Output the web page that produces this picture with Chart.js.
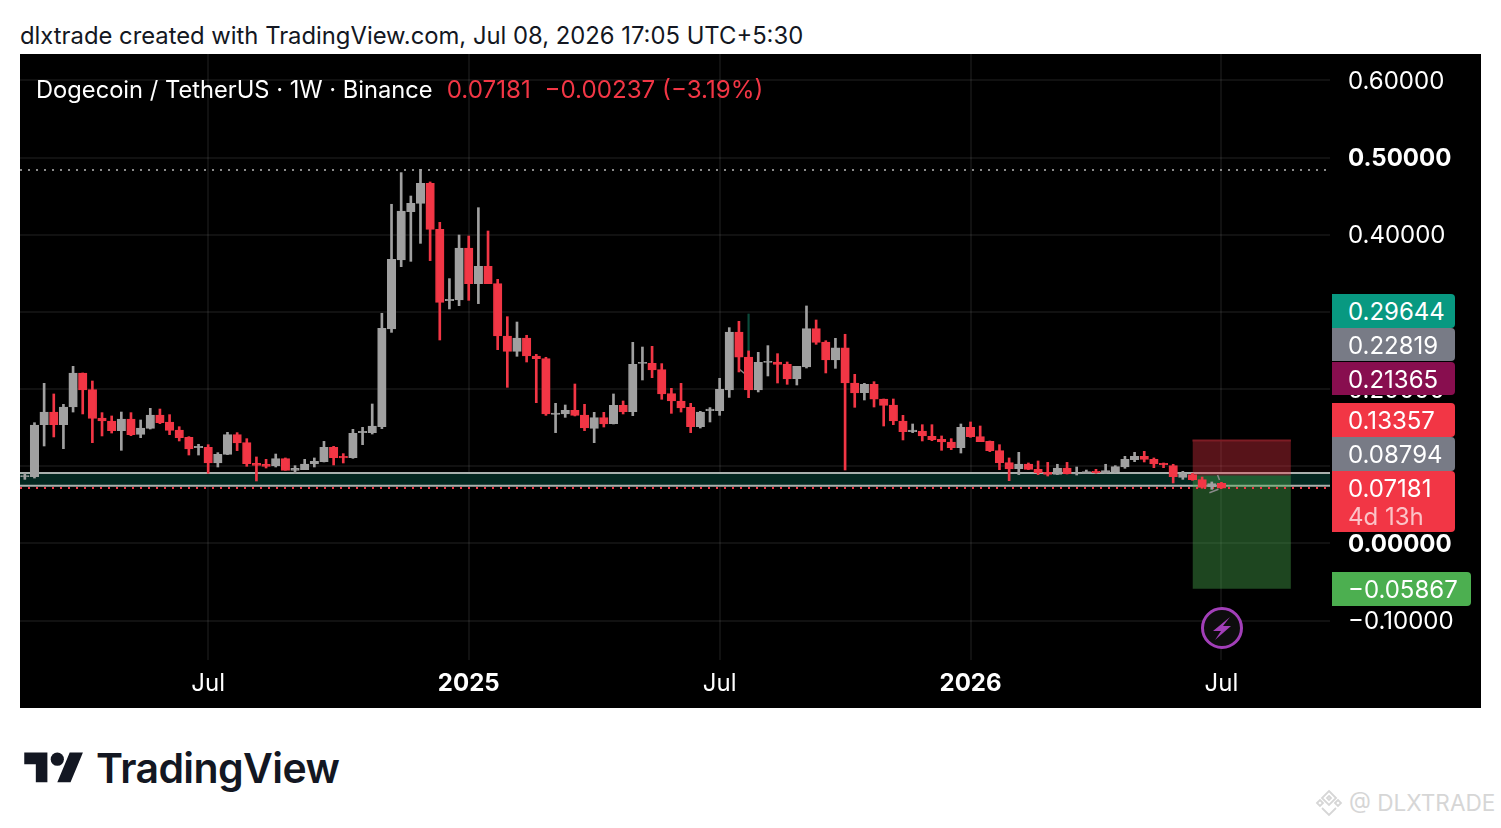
<!DOCTYPE html>
<html>
<head>
<meta charset="utf-8">
<script src="https://cdn.jsdelivr.net/npm/chart.js@4"></script>
<style>
html,body{margin:0;padding:0;background:#fff;width:1501px;height:828px;overflow:hidden;font-family:Inter,sans-serif}
.abs{position:absolute;white-space:pre;line-height:1}
#panel{position:absolute;left:20px;top:54px;width:1461px;height:654px;background:#000}
.badge{position:absolute;left:1332px;width:123px;color:#fff;font-size:24px;box-sizing:border-box;padding-left:16px;border-radius:0 4px 4px 0;line-height:36px}
</style>
</head>
<body>
<div class="abs" id="head" style="left:20px;top:24px;font-size:23.8px;color:#131722"></div>
<div id="panel"><canvas id="c" width="1461" height="654"></canvas></div>
<div class="abs" id="leg" style="left:36px;top:78px;font-size:23.7px;color:#fff"></div>
<div id="badges"></div>
<svg class="abs" style="left:1201px;top:607px" width="42" height="42" viewBox="0 0 42 42">
<circle cx="21" cy="21" r="19.5" fill="#0d0d0d" stroke="#a23fb8" stroke-width="3"/>
<path d="M29 10 L12 24 H20 L14 33 L30 19 H22 Z" fill="#a23fb8"/>
</svg>
<svg class="abs" style="left:24px;top:745.5px" width="60" height="38" viewBox="0 0 36 23">
<path d="M14 22H7V11H0V4h14v18zM28 22h-8l7.5-18h8L28 22z" fill="#131722"/><circle cx="20" cy="8" r="4" fill="#131722"/>
</svg>
<div class="abs" style="left:96px;top:748px;font-size:41px;font-weight:600;color:#131722;letter-spacing:-0.6px">TradingView</div>
<svg class="abs" style="left:1314px;top:788px" width="30" height="30" viewBox="0 0 30 30" fill="none" stroke="#d6d6d6" stroke-width="1.8">
<path d="M15 3 L22 10 L15 17 L8 10 Z"/><path d="M3 15 L6 12 L9 15 L6 18 Z"/><path d="M21 15 L24 12 L27 15 L24 18 Z"/><path d="M8 20 L15 27 L22 20"/><path d="M15 8 L17 10 L15 12 L13 10 Z"/>
</svg>
<div class="abs" style="left:1349px;top:792px;font-size:22.6px;color:#d6d6d6">@ DLXTRADE</div>
<script>
const headText = "dlxtrade created with TradingView.com, Jul 08, 2026 17:05 UTC+5:30";
const symbolText = "Dogecoin / TetherUS · 1W · Binance";
const quoteText = "0.07181  −0.00237 (−3.19%)";

const opens = [.0866,.0866,.1539,.1703,.1539,.1768,.2209,.1993,.1626,.1587,.1462,.1613,.1414,.1492,.1665,.1574,.1470,.1375,.1241,.1246,.1043,.1155,.1410,.1306,.1038,.1026,.1004,.1099,.0948,.0956,.1030,.1060,.1246,.1129,.1112,.1436,.1436,.1513,.2779,.3672,.4299,.4406,.4666,.4070,.3146,.3154,.3828,.3366,.3590,.3366,.2688,.2489,.2662,.2429,.2394,.1673,.1678,.1725,.1665,.1492,.1630,.1552,.1790,.1708,.2334,.2334,.2252,.1941,.1846,.1764,.1513,.1721,.1721,.1988,.2740,.2416,.1988,.2347,.2351,.2321,.2135,.2286,.2783,.2610,.2377,.2533,.2079,.1954,.2062,.1872,.1794,.1587,.1449,.1457,.1388,.1349,.1315,.1241,.1505,.1384,.1323,.1203,.1047,.0969,.1030,.0961,.0922,.0896,.0978,.0900,.0909,.0935,.0913,.0931,.0991,.1086,.1129,.1090,.1038,.1008,.0857,.0892,.0827,.0736,.0779];
const highs = [.0909,.1565,.2075,.1937,.1803,.2295,.2209,.2105,.1695,.1652,.1703,.1695,.1600,.1751,.1742,.1669,.1513,.1384,.1285,.1280,.1177,.1440,.1436,.1358,.1121,.1090,.1159,.1108,.1008,.1090,.1108,.1323,.1259,.1164,.1479,.1505,.1807,.2982,.4394,.4804,.4501,.4847,.4683,.4160,.3431,.3996,.3983,.4350,.4048,.3422,.2938,.2869,.2697,.2450,.2412,.1816,.1794,.2066,.1803,.1699,.1699,.1937,.1846,.2606,.2545,.2554,.2330,.2010,.2075,.1816,.1712,.1760,.2140,.2796,.2878,.2494,.2476,.2563,.2459,.2351,.2295,.3077,.2895,.2627,.2658,.2710,.2191,.2075,.2096,.1872,.1872,.1660,.1548,.1539,.1539,.1393,.1358,.1548,.1574,.1522,.1328,.1280,.1108,.1181,.1043,.1069,.1051,.1026,.1051,.0991,.0952,.0961,.1026,.1008,.1129,.1181,.1194,.1108,.1043,.1026,.0935,.0909,.0861,.0797,.0792];
const lows = [.0831,.0848,.1263,.1380,.1228,.1703,.1678,.1306,.1393,.1431,.1207,.1397,.1371,.1483,.1552,.1410,.1328,.1146,.1146,.0909,.0991,.1151,.1203,.1000,.0810,.0978,.0991,.0948,.0905,.0956,.0991,.1056,.1017,.1043,.1103,.1280,.1418,.1488,.2735,.3586,.3655,.3888,.3664,.2636,.3038,.3081,.3150,.3107,.3366,.2511,.2023,.2425,.2351,.1824,.1660,.1436,.1634,.1652,.1462,.1306,.1509,.1548,.1678,.1656,.2118,.2148,.1868,.1686,.1703,.1436,.1496,.1574,.1660,.1893,.2222,.1889,.1963,.2170,.2079,.2062,.2053,.2273,.2580,.2209,.2269,.0952,.1764,.1859,.1768,.1522,.1539,.1341,.1436,.1328,.1332,.1207,.1216,.1172,.1375,.1319,.1190,.0956,.0814,.0892,.0956,.0892,.0874,.0892,.0900,.0887,.0905,.0909,.0905,.0922,.0974,.1060,.1056,.0982,.0982,.0784,.0831,.0818,.0715,.0702,.0715];
const closes = [.0879,.1535,.1703,.1539,.1768,.2209,.1988,.1621,.1587,.1462,.1613,.1410,.1496,.1665,.1565,.1466,.1371,.1224,.1259,.1043,.1155,.1410,.1302,.1034,.1013,.1000,.1099,.0948,.0974,.1030,.1064,.1246,.1112,.1108,.1427,.1453,.1522,.2787,.3681,.4307,.4406,.4666,.4070,.3124,.3163,.3828,.3366,.3590,.3366,.2688,.2489,.2662,.2429,.2394,.1678,.1690,.1725,.1660,.1496,.1630,.1548,.1790,.1708,.2321,.2347,.2248,.1937,.1846,.1755,.1513,.1703,.1742,.1997,.2740,.2412,.1988,.2347,.2360,.2321,.2131,.2295,.2783,.2606,.2377,.2533,.2079,.1950,.2062,.1868,.1790,.1587,.1449,.1470,.1393,.1345,.1315,.1241,.1505,.1384,.1319,.1203,.1047,.0965,.1030,.0961,.0918,.0896,.0978,.0905,.0909,.0931,.0918,.0943,.0995,.1090,.1129,.1090,.1030,.1021,.0866,.0905,.0827,.0728,.0775,.07181];

const tickIndexes = [19,46,72,98,124];
const tickLabels = ["Jul","2025","Jul","2026","Jul"];
const boldTicks = ["2025","2026"];
const priceTicks = [-0.1,0,0.1,0.2,0.3,0.4,0.5,0.6];
const boldPrices = [0.5,0];

const highLine = 0.4838;
const zoneTop = 0.0913;
const zoneBottom = 0.0749;
const lastPrice = 0.07181;
const stopPrice = 0.13357;
const entryPrice = 0.08794;
const targetPrice = -0.05867;
const boxStart = 121;
const boxEnd = 131.2;
const xMin = -0.5;
const xMax = 135.25;
const yMin = -0.15091;
const yMax = 0.63407;

const badgeTexts = ["0.29644","0.22819","0.21365","0.13357","0.08794","0.07181","−0.05867"];

const GRAY = "#a0a0a0", RED = "#f23645";
document.getElementById("head").textContent = headText;
document.getElementById("leg").innerHTML = symbolText + '<span style="color:#f23645;margin-left:14px;font-size:24.2px">' + quoteText + '</span>';

const badgeStyle = [
 {bg:"#089981",top:294.3,h:33.4},{bg:"#787b86",top:327.7,h:33.6},{bg:"#880e4f",top:361.5,h:33.5},
 {bg:"#f23645",top:403.3,h:34},{bg:"#787b86",top:437.3,h:34},{bg:"#f23645",top:471.3,h:60.7,sub:"4d 13h"},
 {bg:"#4caf50",top:572,h:33.7,w:139}];
const bh = document.getElementById("badges");
badgeTexts.forEach((t,i)=>{
  const s = badgeStyle[i], d = document.createElement("div");
  d.className = "badge"; d.style.top = s.top+"px"; d.style.height = s.h+"px"; d.style.background = s.bg;
  if (s.w) d.style.width = s.w+"px";
  d.textContent = t;
  if (s.sub){ const u=document.createElement("div"); u.textContent=s.sub; u.style.cssText="color:rgba(255,255,255,.7);line-height:22px;margin-top:-1px"; d.appendChild(u); }
  bh.appendChild(d);
});

const hLine = (v,color,dash,order,width) => ({type:"line",data:[{x:xMin,y:v},{x:xMax,y:v}],borderColor:color,borderWidth:width||2,borderDash:dash||[],pointRadius:0,order,fill:false});
const datasets = [
  {type:"bar",data:opens.map((o,i)=>({x:i,y:[o,closes[i]]})),backgroundColor:opens.map((o,i)=>closes[i]>=o?GRAY:RED),borderColor:opens.map((o,i)=>closes[i]>=o?GRAY:RED),borderWidth:1,borderSkipped:false,barThickness:8.5,grouped:false,order:1},
  {type:"bar",data:lows.map((l,i)=>({x:i,y:[l,highs[i]]})),backgroundColor:opens.map((o,i)=>closes[i]>=o?GRAY:RED),barThickness:2,grouped:false,order:2},
  {type:"bar",data:[{x:75,y:[0.2494,0.2973]}],backgroundColor:"#0b4a3a",barThickness:1.5,grouped:false,order:3},
  {type:"line",data:[{x:74.05,y:.2257},{x:74.65,y:.2196}],borderColor:"#8a8a8a",borderWidth:1.5,pointRadius:0,order:3},
  {type:"line",data:[{x:122.75,y:.0658},{x:123.69,y:.0702}],borderColor:"#8a8a8a",borderWidth:1.5,pointRadius:0,order:0},
  {type:"line",data:[{x:123.6,y:.0887},{x:123.8,y:.0823}],borderColor:"#8a8a8a",borderWidth:1.5,pointRadius:0,order:0},
  hLine(lastPrice,RED,[2,6],4,2),
  hLine(highLine,"#8a8a8a",[2,6],9,2),
  hLine(zoneTop,"#a9b0ad",[],6,2),
  hLine(zoneBottom,"#a9b0ad",[],6,2),
  {type:"line",data:[{x:boxStart,y:stopPrice},{x:boxEnd,y:stopPrice}],borderColor:"#7d1c24",borderWidth:2,pointRadius:0,fill:{value:entryPrice},backgroundColor:"rgba(242,54,69,.36)",order:5},
  {type:"line",data:[{x:boxStart,y:entryPrice},{x:boxEnd,y:entryPrice}],borderColor:"rgba(0,0,0,0)",borderWidth:0,pointRadius:0,fill:{value:targetPrice},backgroundColor:"rgba(76,175,80,.4)",order:5},
  {type:"line",data:[{x:xMin,y:zoneTop},{x:xMax,y:zoneTop}],borderColor:"rgba(0,0,0,0)",borderWidth:0,pointRadius:0,fill:{value:zoneBottom},backgroundColor:"#03261f",order:8}
];

new Chart(document.getElementById("c"),{
  data:{datasets},
  options:{
    responsive:false,animation:false,devicePixelRatio:1,
    layout:{padding:0,autoPadding:false},
    plugins:{legend:{display:false},tooltip:{enabled:false},title:{display:false}},
    scales:{
      x:{type:"linear",min:xMin,max:xMax,offset:false,
        afterBuildTicks:s=>{s.ticks=tickIndexes.map(v=>({value:v}));},
        afterFit:s=>{s.height=48;s.paddingLeft=0;s.paddingRight=0;},
        border:{display:false},
        grid:{color:"rgba(255,255,255,.065)",drawTicks:false,lineWidth:2,offset:false},
        ticks:{autoSkip:false,maxRotation:0,padding:9,color:"#fff",
          callback:(v)=>tickLabels[tickIndexes.indexOf(v)],
          font:c=>({family:"Inter",size:24,weight:boldTicks.includes(c.tick&&tickLabels[tickIndexes.indexOf(c.tick.value)])?"700":"400"})}
      },
      y:{type:"linear",position:"right",min:yMin,max:yMax,
        afterBuildTicks:s=>{s.ticks=priceTicks.map(v=>({value:v}));},
        afterFit:s=>{s.width=151;s.paddingTop=0;s.paddingBottom=0;},
        border:{display:false},
        grid:{color:"rgba(255,255,255,.065)",drawTicks:false,lineWidth:2},
        ticks:{padding:18,crossAlign:"near",labelOffset:1.5,color:"#fff",
          callback:v=>(v<0?"−":"")+Math.abs(v).toFixed(5),
          font:c=>({family:"Inter",size:24,weight:c.tick&&boldPrices.includes(c.tick.value)?"700":"400"})}
      }
    }
  }
});
</script>
</body>
</html>
